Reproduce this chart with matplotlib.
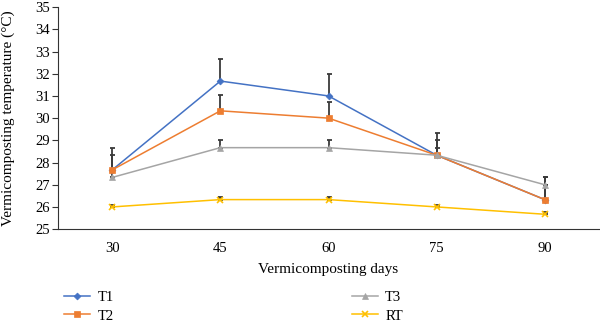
import numpy as np
import matplotlib.pyplot as plt

plt.rcParams['font.family'] = ['Liberation Serif', 'DejaVu Serif']

days = ['30', '45', '60', '75', '90']
t1 = [27.67, 31.67, 31.0, 28.33, 26.33]
t2 = [27.67, 30.33, 30.0, 28.33, 26.33]
t3 = [27.33, 28.67, 28.67, 28.33, 27.0]
rt = [26.0, 26.33, 26.33, 26.0, 25.67]

t1_err = [1.0, 1.0, 1.0, 1.0, 1.0]
t2_err = [0.67, 0.73, 0.73, 0.67, 0.67]
t3_err = [0.33, 0.33, 0.33, 0.33, 0.33]
rt_err = [0.1, 0.1, 0.1, 0.1, 0.1]

names = ['T1', 'T2', 'T3', 'RT']
colors = ['#4472C4', '#ED7D31', '#A5A5A5', '#FFC000']
markers = ['D', 's', '^', 'x']
msizes = [3.5, 5, 5, 5]

fig = plt.figure(figsize=(6, 3.25), dpi=100)
ax = fig.add_axes([0.097, 0.295, 0.901, 0.683])

x = np.arange(len(days))
series = [t1, t2, t3, rt]
errs = [t1_err, t2_err, t3_err, rt_err]

# error bars first (upper side only), then the lines on top
for vals, err in zip(series, errs):
    ax.errorbar(x, vals, yerr=[np.zeros(len(err)), err], fmt='none',
                ecolor='#3a3a3a', elinewidth=1.3, capsize=1.8, capthick=1.3, zorder=2)

handles = []
for vals, name, c, m, ms in zip(series, names, colors, markers, msizes):
    h, = ax.plot(x, vals, color=c, marker=m, markersize=ms, linewidth=1.1,
                 markeredgewidth=1.2 if m == 'x' else 0.5, label=name, zorder=3)
    handles.append(h)

ax.set_xlim(-0.5, len(days) - 0.5)
ax.set_ylim(25, 35)
ax.set_yticks(np.arange(25, 36, 1))
ax.set_xticks(x)
ax.set_xticklabels(days)
ax.tick_params(axis='x', length=0, pad=9, labelsize=10.5)
ax.tick_params(axis='y', length=4, width=0.8, labelsize=10.5, color='#333333', pad=2)
ax.spines['top'].set_visible(False)
ax.spines['right'].set_visible(False)
ax.spines['left'].set_color('#333333')
ax.spines['bottom'].set_color('#333333')

ax.set_xlabel('Vermicomposting days', fontsize=11, labelpad=6)
ax.set_ylabel('Vermicomposting temperature (\u00b0C)', fontsize=11)
ax.yaxis.set_label_coords(-0.08, 0.5)

fig.legend(handles=handles, loc='upper left', bbox_to_anchor=(0.085, 0.145),
           ncol=2, frameon=False, fontsize=10.5, handlelength=1.8,
           handletextpad=0.5, columnspacing=16.3, labelspacing=0.35)

fig.savefig('out.png', dpi=100)
